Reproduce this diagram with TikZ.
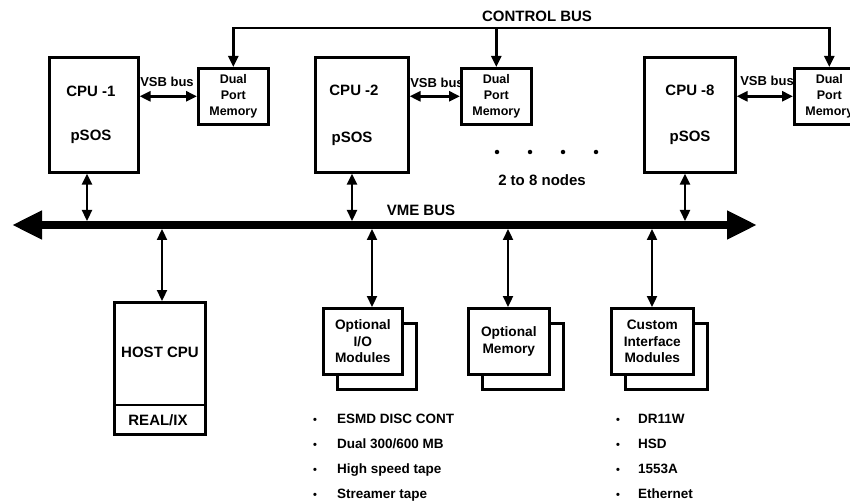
\documentclass[tikz,border=0pt]{standalone}
\usepackage{fontspec}
\setmainfont{Liberation Sans}
\usetikzlibrary{arrows.meta}
\tikzset{
  box/.style={draw, line width=2.6pt, fill=white, inner sep=0pt, anchor=north west},
  lbl/.style={font=\bfseries\fontsize{15}{17}\selectfont, inner sep=0pt, align=center},
  dpmlbl/.style={font=\bfseries\fontsize{12.5}{16}\selectfont, inner sep=0pt, align=center},
  vsblbl/.style={font=\bfseries\fontsize{13}{16}\selectfont, inner sep=0pt},
  modlbl/.style={font=\bfseries\fontsize{13.7}{16.5}\selectfont, inner sep=0pt, align=center},
  listlbl/.style={font=\bfseries\fontsize{13.5}{16}\selectfont, inner sep=0pt, anchor=base west},
  bul/.style={font=\bfseries\fontsize{11}{16}\selectfont, inner sep=0pt, anchor=base},
  dot/.style={circle, fill, inner sep=0pt, minimum size=4.5pt},
  tipx/.tip={Triangle[length=11pt,width=10pt]},
  dbl/.style={line width=2.3pt, tipx-tipx},
  vsbarrow/.style={line width=2.8pt, tipx-tipx},
  sgl/.style={line width=2.5pt, -tipx},
  busline/.style={line width=8pt, {Triangle[length=30pt,width=27pt]}-{Triangle[length=30pt,width=27pt]}},
}
\begin{document}
\begin{tikzpicture}[x=1pt,y=-1pt]
\clip (0,0) rectangle (850,502);
% CPU boxes
\node[box, minimum width=89pt, minimum height=115pt] (cpu1) at (48,56) {};
\node[box, minimum width=93pt, minimum height=115pt] (cpu2) at (314,56) {};
\node[box, minimum width=91pt, minimum height=115pt] (cpu8) at (643,56) {};
\node[lbl] (cpu1a) at (91,91) {CPU -1};
\node[lbl] (cpu1b) at (91,137) {pSOS};
\node[lbl] (cpu2a) at (354,90) {CPU -2};
\node[lbl] (cpu2b) at (352,139) {pSOS};
\node[lbl] (cpu8a) at (690,90) {CPU -8};
\node[lbl] (cpu8b) at (690,138) {pSOS};
% dual port memories
\node[box, minimum width=70pt, minimum height=56pt] (dpm1) at (197,67) {};
\node[box, minimum width=70pt, minimum height=56pt] (dpm2) at (460,67) {};
\node[box, minimum width=70pt, minimum height=56pt] (dpm3) at (793,67) {};
\node[dpmlbl] (dpm1t) at (dpm1.center) {Dual\\Port\\Memory};
\node[dpmlbl] (dpm2t) at (dpm2.center) {Dual\\Port\\Memory};
\node[dpmlbl] (dpm3t) at (dpm3.center) {Dual\\Port\\Memory};
% VSB links
\node[vsblbl] (vsb1) at (167,82) {VSB bus};
\node[vsblbl] (vsb2) at (437,83) {VSB bus};
\node[vsblbl] (vsb8) at (767,81) {VSB bus};
\draw[vsbarrow] (dpm1.west -| cpu1.east) -- (dpm1.west);
\draw[vsbarrow] (dpm2.west -| cpu2.east) -- (dpm2.west);
\draw[vsbarrow] (dpm3.west -| cpu8.east) -- (dpm3.west);
% control bus
\coordinate (cb) at (0,28);
\node[lbl] (cbl) at (537,16) {CONTROL BUS};
\draw[line width=2.6pt, line cap=rect] (dpm1.north |- cb) -- (dpm3.north |- cb);
\draw[sgl] (dpm1.north |- cb) -- (dpm1.north);
\draw[sgl] (dpm2.north |- cb) -- (dpm2.north);
\draw[sgl] (dpm3.north |- cb) -- (dpm3.north);
% dots
\node[dot] (d1) at (497,152) {};
\node[dot] (d2) at (530,152) {};
\node[dot] (d3) at (563,152) {};
\node[dot] (d4) at (596,152) {};
\node[lbl] (nodes) at (542,180) {2 to 8 nodes};
% VME bus
\node[lbl] (vme) at (421,210) {VME BUS};
\coordinate (bl) at (12,225);
\coordinate (br) at (757,225);
\coordinate (u1) at (87,221);
\coordinate (u2) at (352,221);
\coordinate (u8) at (685,221);
\coordinate (l1) at (162,229);
\coordinate (l2) at (372,229);
\coordinate (l3) at (508,229);
\coordinate (l4) at (652,229);
% bottom boxes
\node[box, minimum width=91pt, minimum height=132pt] (host) at (113,301) {};
\coordinate (hdiv) at (0,405);
\draw[line width=2.6pt] (host.west |- hdiv) -- (host.east |- hdiv);
\node[lbl] (hostt) at (160,352) {HOST CPU};
\node[lbl] (realix) at (158,420) {REAL/IX};
\node[box, minimum width=79pt, minimum height=66pt] (iob) at (336,322) {};
\node[box, minimum width=79pt, minimum height=66pt] (io) at (322,307) {};
\node[box, minimum width=81pt, minimum height=66pt] (memb) at (481,322) {};
\node[box, minimum width=81pt, minimum height=66pt] (mem) at (467,307) {};
\node[box, minimum width=82pt, minimum height=66pt] (cusb) at (624,322) {};
\node[box, minimum width=82pt, minimum height=66pt] (cus) at (610,307) {};
\node[modlbl] (iot) at (io.center) {Optional\\I/O\\Modules};
\node[modlbl] (memt) at (mem.center) {Optional\\Memory};
\node[modlbl] (cust) at (cus.center) {Custom\\Interface\\Modules};
% connectors to bus
\draw[dbl] (u1 |- cpu1.south) -- (u1);
\draw[dbl] (u2 |- cpu2.south) -- (u2);
\draw[dbl] (u8 |- cpu8.south) -- (u8);
\draw[dbl] (l1) -- (l1 |- host.north);
\draw[dbl] (l2) -- (l2 |- io.north);
\draw[dbl] (l3) -- (l3 |- mem.north);
\draw[dbl] (l4) -- (l4 |- cus.north);
\draw[busline] (bl) -- (br);
% lists
\node[bul] (b1) at (315,423) {\textbullet};
\node[bul] (b2) at (315,448) {\textbullet};
\node[bul] (b3) at (315,473) {\textbullet};
\node[bul] (b4) at (315,498) {\textbullet};
\node[listlbl] (t1) at (337,423) {ESMD DISC CONT};
\node[listlbl] (t2) at (337,448) {Dual 300/600 MB};
\node[listlbl] (t3) at (337,473) {High speed tape};
\node[listlbl] (t4) at (337,498) {Streamer tape};
\node[bul] (c1) at (618,423) {\textbullet};
\node[bul] (c2) at (618,448) {\textbullet};
\node[bul] (c3) at (618,473) {\textbullet};
\node[bul] (c4) at (618,498) {\textbullet};
\node[listlbl] (s1) at (638,423) {DR11W};
\node[listlbl] (s2) at (638,448) {HSD};
\node[listlbl] (s3) at (638,473) {1553A};
\node[listlbl] (s4) at (638,498) {Ethernet};
\end{tikzpicture}
\end{document}
